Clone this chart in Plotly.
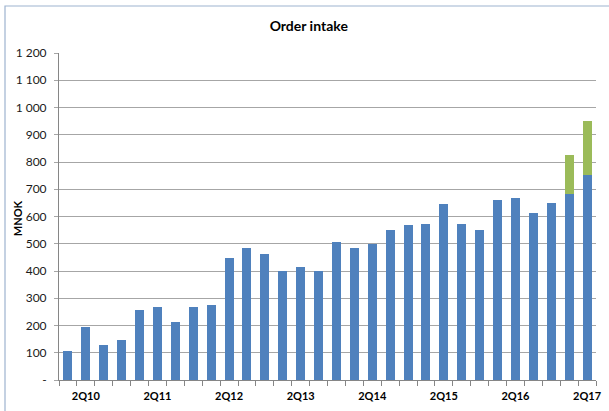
import plotly.graph_objects as go

quarters = [f"{q}Q{y:02d}" for y in range(10, 18) for q in range(1, 5)][:30]
base_values = [105, 193, 128, 148, 258, 269, 214, 267, 274, 448,
               486, 461, 400, 416, 399, 508, 486, 500, 551, 567,
               571, 645, 571, 551, 661, 668, 612, 650, 682, 751]
extra_values = [None] * 28 + [143, 199]

y_tickvals = list(range(0, 1300, 100))
y_ticktext = ["-"] + [f"{v:,}".replace(",", " ") for v in y_tickvals[1:]]
x_ticktext = [q if q.startswith("2Q") else "" for q in quarters]

BLUE = "#4F81BD"
GREEN = "#9BBB59"
GRID = "#A6A6A6"
FONT = "Lato"

fig = go.Figure()
fig.add_trace(go.Bar(x=quarters, y=base_values, marker=dict(color=BLUE, line=dict(width=0)), name="Order intake"))
fig.add_trace(go.Bar(x=quarters, y=extra_values, marker=dict(color=GREEN, line=dict(width=0)), name="Extra"))

fig.update_layout(
    width=609, height=411,
    barmode="stack", bargap=0.5,
    showlegend=False,
    paper_bgcolor="white", plot_bgcolor="white",
    margin=dict(l=59, r=13, t=53, b=31),
    font=dict(family=FONT, size=11, color="#000000"),
    title=dict(text="<b>Order intake</b>", x=0.507, xanchor="center", y=0.937, yanchor="middle",
               font=dict(family=FONT, size=14, color="#000000")),
    xaxis=dict(
        type="category", tickmode="array", tickvals=quarters, ticktext=x_ticktext,
        tickson="boundaries", ticks="outside", ticklen=5, tickcolor="#868686",
        showline=True, linecolor="#868686", linewidth=1, showgrid=False,
        tickangle=0, automargin=False, ticklabelstandoff=6,
        tickfont=dict(family=FONT, size=11, color="#000000", weight="bold"),
    ),
    yaxis=dict(
        range=[0, 1200], tickmode="array", tickvals=y_tickvals, ticktext=y_ticktext,
        ticks="outside", ticklen=4, tickcolor="#A6A6A6",
        showline=True, linecolor="#868686", linewidth=1,
        showgrid=True, gridcolor=GRID, gridwidth=1, zeroline=False,
        automargin=False, ticklabelstandoff=5,
        tickfont=dict(family=FONT, size=12, color="#1a1a1a"),
    ),
    annotations=[dict(text="<b>MNOK</b>", xref="paper", yref="paper",
                      x=(17 - 59) / 537, y=0.495, xanchor="center", yanchor="middle",
                      textangle=-90, showarrow=False,
                      font=dict(family=FONT, size=11, color="#000000"))],
    shapes=[dict(type="rect", xref="paper", yref="paper",
                 x0=-54/537, x1=640/537, y0=-60/327, y1=(327+47)/327,
                 line=dict(color="#9DB3CF", width=1.2), fillcolor="rgba(0,0,0,0)", layer="above")],
)

fig.write_html("out.html", config={"displayModeBar": False},
               post_script="document.body.style.margin='0';")
